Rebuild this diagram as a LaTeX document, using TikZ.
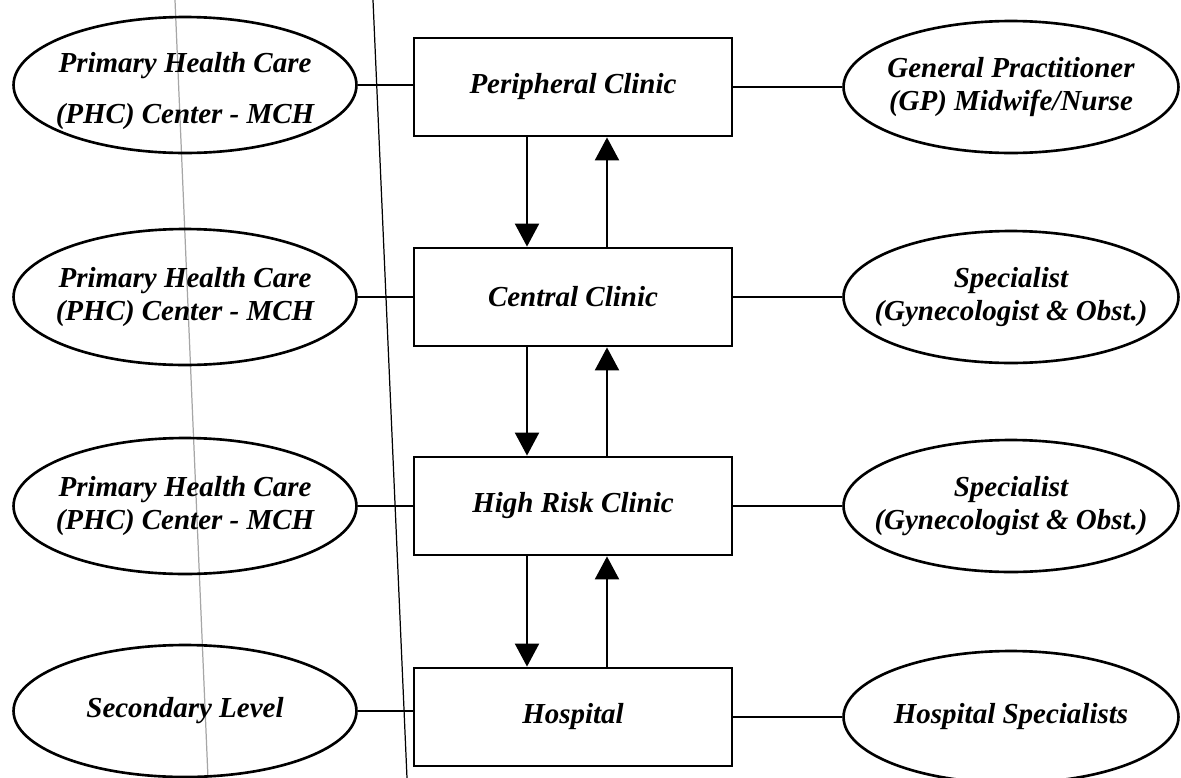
\documentclass[tikz,border=0pt]{standalone}
\usepackage{fontspec}
\setmainfont{Liberation Serif}
\usetikzlibrary{shapes.geometric,arrows.meta}
\begin{document}
\begin{tikzpicture}[x=0.02cm,y=-0.02cm,
  txt/.style={font=\fontsize{16.5}{18.8}\selectfont\bfseries\itshape, align=center, inner sep=0pt},
  clinic/.style={txt, draw, line width=1.6pt, minimum width=6.36cm, minimum height=1.96cm, inner sep=0pt},
  lell/.style={ellipse, draw, line width=1.5pt, minimum width=6.86cm, minimum height=2.72cm, inner sep=0pt},
  rell/.style={ellipse, draw, line width=1.5pt, minimum width=6.7cm, minimum height=2.64cm, inner sep=0pt},
  link/.style={line width=1.6pt},
  flow/.style={line width=1.2pt, -{Triangle[width=0.48cm,length=0.46cm]}},
  divider/.style={line width=0.7pt}
]
\useasboundingbox (0,0) rectangle (1181,778);
% dividing lines
\draw[divider, gray!70] (175,0) -- (208,778);
\draw[divider, black] (373,0) -- (407,778);
% clinics
\node[clinic] (P) at (573,87) {Peripheral Clinic};
\node[clinic] (C) at (573,297) {Central Clinic};
\node[clinic] (H) at (573,506) {High Risk Clinic};
\node[clinic] (S) at (573,717) {Hospital};
% left ellipses
\node[lell] (L1) at (185,85) {};
\node[lell] (L2) at (185,297) {};
\node[lell] (L3) at (185,506) {};
\node[lell, minimum height=2.64cm] (L4) at (185,711) {};
\node[txt] (L1t) at (185,91) {Primary Health Care\\[10pt](PHC) Center - MCH};
\node[txt] (L2t) at (L2) {Primary Health Care\\(PHC) Center - MCH};
\node[txt] (L3t) at (L3) {Primary Health Care\\(PHC) Center - MCH};
\node[txt] (L4t) at (L4) {Secondary Level};
% right ellipses
\node[rell] (R1) at (1011,87) {};
\node[rell] (R2) at (1011,297) {};
\node[rell] (R3) at (1011,506) {};
\node[rell] (R4) at (1011,717) {};
\node[txt] (R1t) at (R1) {General Practitioner\\(GP) Midwife/Nurse};
\node[txt] (R2t) at (R2) {Specialist\\(Gynecologist \& Obst.)};
\node[txt] (R3t) at (R3) {Specialist\\(Gynecologist \& Obst.)};
\node[txt] (R4t) at (R4) {Hospital Specialists};
% horizontal links
\foreach \l/\b/\r in {L1/P/R1, L2/C/R2, L3/H/R3, L4/S/R4} {
  \draw[link] (\l.east) -- (\b.west |- \l.east);
  \draw[link] (\b.east) -- (\r.west);
}
% vertical referral arrows
\foreach \a/\b in {P/C, C/H, H/S} {
  \draw[flow] ([xshift=-0.92cm]\a.south) -- ([xshift=-0.92cm]\b.north);
  \draw[flow] ([xshift=0.68cm]\b.north) -- ([xshift=0.68cm]\a.south);
}
\end{tikzpicture}
\end{document}
